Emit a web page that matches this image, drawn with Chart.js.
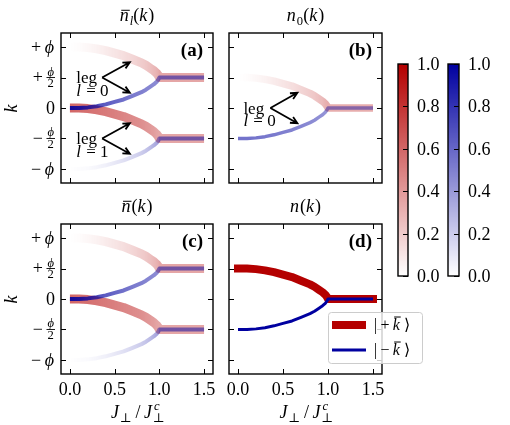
<!doctype html>
<html lang="en">
<head>
<meta charset="utf-8">
<title>Leg occupations n(k)</title>
<script src="https://cdn.jsdelivr.net/npm/chart.js@4/dist/chart.umd.min.js"></script>
<style>
  body { margin: 0; background: #fff; }
  #wrap { position: relative; width: 510px; height: 425px; }
  canvas { position: absolute; left: 0; top: 0; }
</style>
</head>
<body>
<div id="wrap">
  <canvas id="pa" width="510" height="425"></canvas>
  <canvas id="pb" width="510" height="425"></canvas>
  <canvas id="pc" width="510" height="425"></canvas>
  <canvas id="pd" width="510" height="425"></canvas>
  <canvas id="cbr" width="510" height="425"></canvas>
  <canvas id="cbb" width="510" height="425"></canvas>
</div>

<script>
const jVals = [0, 0.1, 0.2, 0.3, 0.4, 0.5, 0.6, 0.7, 0.8, 0.85, 0.9, 0.94, 0.97, 0.99, 1.0, 1.5];

// k of each branch (units of phi)
const kUpOuter = [1.0, 1.0, 0.99, 0.97, 0.94, 0.9, 0.86, 0.8, 0.74, 0.7, 0.65, 0.61, 0.57, 0.53, 0.5, 0.5];
const kUpInner = [0.0, 0.0, 0.01, 0.03, 0.06, 0.1, 0.14, 0.2, 0.26, 0.3, 0.35, 0.39, 0.43, 0.47, 0.5, 0.5];
const kLoInner = [0.0, 0.0, -0.01, -0.03, -0.06, -0.1, -0.14, -0.2, -0.26, -0.3, -0.35, -0.39, -0.43, -0.47, -0.5, -0.5];
const kLoOuter = [-1.0, -1.0, -0.99, -0.97, -0.94, -0.9, -0.86, -0.8, -0.74, -0.7, -0.65, -0.61, -0.57, -0.53, -0.5, -0.5];
const kPlus  = [0.5, 0.5, 0.49, 0.47, 0.44, 0.4, 0.36, 0.3, 0.24, 0.2, 0.15, 0.11, 0.07, 0.03, 0.0, 0.0];
const kMinus = [-0.5, -0.5, -0.49, -0.47, -0.44, -0.4, -0.36, -0.3, -0.24, -0.2, -0.15, -0.11, -0.07, -0.03, 0.0, 0.0];

// occupation (colour value 0..1) along each branch
const nUpOuter = [0.0, 0.01, 0.03, 0.05, 0.08, 0.1, 0.13, 0.16, 0.2, 0.22, 0.25, 0.28, 0.3, 0.33, 0.35, 0.35];
const nUpInner = [0.9, 0.85, 0.78, 0.7, 0.64, 0.6, 0.56, 0.52, 0.5, 0.48, 0.47, 0.46, 0.46, 0.46, 0.5, 0.5];
const nLoInner = [0.6, 0.58, 0.56, 0.54, 0.52, 0.5, 0.48, 0.46, 0.44, 0.42, 0.4, 0.38, 0.36, 0.35, 0.35, 0.35];
const nLoOuter = [0.0, 0.01, 0.02, 0.04, 0.06, 0.09, 0.12, 0.16, 0.2, 0.23, 0.27, 0.31, 0.35, 0.4, 0.5, 0.5];
const nPlusB   = [0.0, 0.01, 0.03, 0.05, 0.08, 0.1, 0.13, 0.16, 0.2, 0.22, 0.25, 0.27, 0.3, 0.32, 0.32, 0.32];
const nMinusB  = [0.55, 0.55, 0.54, 0.53, 0.52, 0.5, 0.49, 0.48, 0.46, 0.45, 0.44, 0.43, 0.42, 0.42, 0.42, 0.42];

// ticks
const xTicks = [0, 0.5, 1, 1.5];
const xTickText = ['0.0', '0.5', '1.0', '1.5'];
const yTicks = [1, 0.5, 0, -0.5, -1];
const cbTicks = [0, 0.2, 0.4, 0.6, 0.8, 1.0];
const cbTickText = ['0.0', '0.2', '0.4', '0.6', '0.8', '1.0'];

const SERIF = '"Liberation Serif","DejaVu Serif",serif';
const RED = '180,0,0';
const BLUE = '0,0,160';

const yTickText = [
    [{t: '+'}, {t: '\u2009'}, {t: '\u03D5', i: 1}],
    [{t: '+'}, {t: '\u2009'}, {f: ['\u03D5', '2']}],
    [{t: '0'}],
    [{t: '\u2212'}, {t: '\u2009'}, {f: ['\u03D5', '2']}],
    [{t: '\u2212'}, {t: '\u2009'}, {t: '\u03D5', i: 1}]
];

const legNote = (l) => [[{t: 'leg'}], [{t: 'l', i: 1}, {t: ' = ' + l}]];

const panels = {
    pa: {box: [61, 33, 213, 183], letter: '(a)', yLab: true, xLab: false,
         title: [{t: 'n', i: 1, o: 0.62}, {t: 'l', i: 1, s: -1}, {t: '('}, {t: 'k', i: 1}, {t: ')'}],
         arrows: [[0.36, 0.5, 0.67, 0.75], [0.36, 0.5, 0.67, 0.25],
                  [0.36, -0.5, 0.67, -0.25], [0.36, -0.5, 0.67, -0.75]],
         notes: [{x: 0.07, y: 0.5, lines: legNote(0)}, {x: 0.07, y: -0.5, lines: legNote(1)}]},
    pb: {box: [229, 33, 382, 183], letter: '(b)', yLab: false, xLab: false,
         title: [{t: 'n', i: 1}, {t: '0', s: -1}, {t: '('}, {t: 'k', i: 1}, {t: ')'}],
         arrows: [[0.36, 0, 0.66, 0.25], [0.36, 0, 0.66, -0.25]],
         notes: [{x: 0.06, y: 0, lines: legNote(0)}]},
    pc: {box: [61, 224, 213, 374], letter: '(c)', yLab: true, xLab: true,
         title: [{t: 'n', i: 1, o: 0.62}, {t: '('}, {t: 'k', i: 1}, {t: ')'}],
         arrows: [], notes: []},
    pd: {box: [229, 224, 382, 374], letter: '(d)', yLab: false, xLab: true, legend: true,
         title: [{t: 'n', i: 1}, {t: '('}, {t: 'k', i: 1}, {t: ')'}],
         arrows: [], notes: []}
};

// ---------- rich text helpers ----------
function fontFor(p, size) {
    const sz = p.s ? size * 0.7 : size;
    return (p.i ? 'italic ' : '') + (p.b ? 'bold ' : '') + sz + 'px ' + SERIF;
}
function partWidth(ctx, p, size) {
    if (p.f) {
        ctx.font = 'italic ' + size * 0.7 + 'px ' + SERIF;
        const a = ctx.measureText(p.f[0]).width;
        ctx.font = size * 0.7 + 'px ' + SERIF;
        return Math.max(a, ctx.measureText(p.f[1]).width) + 2;
    }
    ctx.font = fontFor(p, size);
    let w = ctx.measureText(p.t).width;
    if (p.sup) {
        ctx.font = 'italic ' + size * 0.7 + 'px ' + SERIF;
        w = Math.max(w, ctx.measureText(p.sup).width);
    }
    return w + (p.i && !p.s ? 1 : 0);
}
function drawRich(ctx, parts, x, y, size, align) {
    const ws = parts.map(p => partWidth(ctx, p, size));
    const total = ws.reduce((a, b) => a + b, 0);
    let cx = align === 'right' ? x - total : align === 'center' ? x - total / 2 : x;
    ctx.textAlign = 'left';
    ctx.textBaseline = 'alphabetic';
    const base = y + size * 0.33;
    parts.forEach((p, i) => {
        if (p.f) {
            const w = ws[i];
            ctx.font = 'italic ' + size * 0.7 + 'px ' + SERIF;
            ctx.textAlign = 'center';
            ctx.fillText(p.f[0], cx + w / 2, y - 2);
            ctx.font = size * 0.7 + 'px ' + SERIF;
            ctx.fillText(p.f[1], cx + w / 2, y + size * 0.55);
            ctx.textAlign = 'left';
            ctx.fillRect(cx, y - 0.5, w, 0.9);
        } else {
            ctx.font = fontFor(p, size);
            const dy = p.s === -1 ? size * 0.22 : p.s === 1 ? -size * 0.4 : 0;
            ctx.fillText(p.t, cx, base + dy);
            if (p.sup) {
                ctx.font = 'italic ' + size * 0.7 + 'px ' + SERIF;
                ctx.fillText(p.sup, cx + 1, base - size * 0.42);
            }
            if (p.o) {
                // overline, p.o = height above baseline in em
                ctx.fillRect(cx + 1.5, base - size * p.o, ws[i] - 1.5, 1);
            }
        }
        cx += ws[i];
    });
}

function arrow(ctx, x0, y0, x1, y1) {
    const ang = Math.atan2(y1 - y0, x1 - x0), h = 7.5;
    ctx.beginPath();
    ctx.moveTo(x0, y0);
    ctx.lineTo(x1, y1);
    ctx.moveTo(x1 - h * Math.cos(ang - 0.45), y1 - h * Math.sin(ang - 0.45));
    ctx.lineTo(x1, y1);
    ctx.lineTo(x1 - h * Math.cos(ang + 0.45), y1 - h * Math.sin(ang + 0.45));
    ctx.stroke();
}

// ---------- frame / ticks / labels of the four panels ----------
const frame = {
    id: 'frame',
    afterDraw(chart) {
        const p = panels[chart.canvas.id];
        const {ctx, chartArea: a} = chart;
        const sx = chart.scales.x, sy = chart.scales.y;
        ctx.save();
        ctx.fillStyle = '#000';
        ctx.strokeStyle = '#000';

        // arrows + notes
        ctx.lineWidth = 1.8;
        p.arrows.forEach(r => arrow(ctx, sx.getPixelForValue(r[0]), sy.getPixelForValue(r[1]),
                                         sx.getPixelForValue(r[2]), sy.getPixelForValue(r[3])));
        p.notes.forEach(n => {
            const px = sx.getPixelForValue(n.x), py = sy.getPixelForValue(n.y);
            n.lines.forEach((ln, i) => drawRich(ctx, ln, px, py + i * 12.5, 17, 'left'));
        });

        // inward ticks on all four sides
        ctx.lineWidth = 1;
        ctx.beginPath();
        xTicks.forEach(v => {
            const px = Math.round(sx.getPixelForValue(v)) + 0.5;
            ctx.moveTo(px, a.bottom); ctx.lineTo(px, a.bottom - 5);
            ctx.moveTo(px, a.top); ctx.lineTo(px, a.top + 5);
        });
        yTicks.forEach(v => {
            const py = Math.round(sy.getPixelForValue(v)) + 0.5;
            ctx.moveTo(a.left, py); ctx.lineTo(a.left + 5, py);
            ctx.moveTo(a.right, py); ctx.lineTo(a.right - 5, py);
        });
        ctx.stroke();
        ctx.lineWidth = 1.4;
        ctx.strokeRect(a.left, a.top, a.right - a.left, a.bottom - a.top);

        // tick labels
        if (p.yLab) {
            yTicks.forEach((v, i) => drawRich(ctx, yTickText[i], a.left - 6, sy.getPixelForValue(v), 18, 'right'));
            ctx.save();
            ctx.translate(11, (a.top + a.bottom) / 2);
            ctx.rotate(-Math.PI / 2);
            drawRich(ctx, [{t: 'k', i: 1}], 0, 0, 18, 'center');
            ctx.restore();
        }
        if (p.xLab) {
            xTicks.forEach((v, i) => drawRich(ctx, [{t: xTickText[i]}], sx.getPixelForValue(v), a.bottom + 15, 18, 'center'));
            drawRich(ctx, [{t: 'J', i: 1}, {t: '\u22A5', s: -1}, {t: '\u2009/\u2009'}, {t: 'J', i: 1}, {t: '\u22A5', s: -1, sup: 'c'}],
                     (a.left + a.right) / 2 + 1, a.bottom + 38, 18, 'center');
        }

        // title and panel letter
        drawRich(ctx, p.title, (a.left + a.right) / 2, a.top - 18, 18, 'center');
        drawRich(ctx, [{t: p.letter, b: 1}], a.right - 10, a.top + 17, 19, 'right');

        // legend
        if (p.legend) {
            const lx = a.right - 54, ly = a.bottom - 62, lw = 94, lh = 51;
            ctx.fillStyle = 'rgba(255,255,255,0.8)';
            ctx.strokeStyle = '#cccccc';
            ctx.lineWidth = 1;
            ctx.beginPath();
            ctx.roundRect(lx + 0.5, ly + 0.5, lw, lh, 3);
            ctx.fill();
            ctx.stroke();
            const entries = chart.data.datasets.filter(d => d.legendRow !== undefined)
                                               .sort((m, n) => m.legendRow - n.legendRow);
            entries.forEach((d, i) => {
                const yy = ly + 13 + i * 25;
                ctx.strokeStyle = d.borderColor;
                ctx.lineWidth = d.borderWidth;
                ctx.lineCap = 'butt';
                ctx.beginPath();
                ctx.moveTo(lx + 4, yy); ctx.lineTo(lx + 38, yy);
                ctx.stroke();
                ctx.fillStyle = '#000';
                drawRich(ctx, [{t: '|\u2009'}, {t: d.label + '\u2009'}, {t: 'k', i: 1, o: 0.86}, {t: '\u2009\u27E9'}],
                         lx + 46, yy, 16, 'left');
            });
        }
        ctx.restore();
    }
};

function series(ks) {
    return jVals.map((j, i) => ({x: j, y: ks[i]}));
}

// colour that follows the occupation along J (colormap white -> rgb)
function fade(n, rgb) {
    return (c) => {
        const chart = c.chart;
        if (!chart.chartArea) return 'rgba(' + rgb + ',0.5)';
        const sx = chart.scales.x;
        const x0 = sx.getPixelForValue(jVals[0]), x1 = sx.getPixelForValue(jVals[jVals.length - 1]);
        const g = chart.ctx.createLinearGradient(x0, 0, x1, 0);
        jVals.forEach((j, i) => g.addColorStop((sx.getPixelForValue(j) - x0) / (x1 - x0), 'rgba(' + rgb + ',' + n[i] + ')'));
        return g;
    };
}

function makePanel(id, datasets) {
    const b = panels[id].box;
    return new Chart(document.getElementById(id), {
        type: 'line',
        data: {datasets: datasets},
        options: {
            responsive: false,
            animation: false,
            events: [],
            layout: {padding: {left: b[0], top: b[1], right: 510 - b[2], bottom: 425 - b[3]}},
            scales: {
                x: {type: 'linear', min: -0.1, max: 1.6, display: false},
                y: {type: 'linear', min: -1.23, max: 1.23, display: false}
            },
            elements: {
                point: {radius: 0},
                line: {tension: 0, borderJoinStyle: 'round', borderCapStyle: 'butt', fill: false}
            },
            plugins: {legend: {display: false}, tooltip: {enabled: false}}
        },
        plugins: [frame]
    });
}

// blue datasets first so they are drawn on top
const fourBranches = (wRed, wBlue) => [
    {data: series(kUpInner), borderColor: fade(nUpInner, BLUE), borderWidth: wBlue},
    {data: series(kLoOuter), borderColor: fade(nLoOuter, BLUE), borderWidth: wBlue},
    {data: series(kUpOuter), borderColor: fade(nUpOuter, RED), borderWidth: wRed},
    {data: series(kLoInner), borderColor: fade(nLoInner, RED), borderWidth: wRed}
];

makePanel('pa', fourBranches(9, 4));
makePanel('pc', fourBranches(9, 4));
makePanel('pb', [
    {data: series(kMinus), borderColor: fade(nMinusB, BLUE), borderWidth: 3.5},
    {data: series(kPlus), borderColor: fade(nPlusB, RED), borderWidth: 7.5}
]);
makePanel('pd', [
    {label: '\u2212', legendRow: 1, data: series(kMinus), borderColor: 'rgb(' + BLUE + ')', borderWidth: 3},
    {label: '+', legendRow: 0, data: series(kPlus), borderColor: 'rgb(' + RED + ')', borderWidth: 8, borderCapStyle: 'square'}
]);

// ---------- colour bars ----------
const cbFrame = {
    id: 'cbFrame',
    afterDraw(chart) {
        const {ctx, chartArea: a} = chart;
        const sy = chart.scales.y;
        ctx.save();
        ctx.strokeStyle = '#000';
        ctx.fillStyle = '#000';
        ctx.lineWidth = 1;
        ctx.beginPath();
        cbTicks.forEach(v => {
            const py = Math.round(sy.getPixelForValue(v)) + 0.5;
            ctx.moveTo(a.right, py); ctx.lineTo(a.right - 5, py);
        });
        ctx.stroke();
        ctx.lineWidth = 1.4;
        ctx.strokeRect(a.left, a.top, a.right - a.left, a.bottom - a.top);
        cbTicks.forEach((v, i) => drawRich(ctx, [{t: cbTickText[i]}], a.right + 9, sy.getPixelForValue(v), 18, 'left'));
        ctx.restore();
    }
};

function makeBar(id, rgb, left, right) {
    return new Chart(document.getElementById(id), {
        type: 'bar',
        data: {
            labels: [''],
            datasets: [{
                data: [1],
                barPercentage: 1,
                categoryPercentage: 1,
                borderWidth: 0,
                backgroundColor: (c) => {
                    const chart = c.chart;
                    if (!chart.chartArea) return 'rgba(' + rgb + ',0.5)';
                    const sy = chart.scales.y;
                    const g = chart.ctx.createLinearGradient(0, sy.getPixelForValue(0), 0, sy.getPixelForValue(1));
                    g.addColorStop(0, 'rgba(' + rgb + ',0)');
                    g.addColorStop(1, 'rgba(' + rgb + ',1)');
                    return g;
                }
            }]
        },
        options: {
            responsive: false,
            animation: false,
            events: [],
            layout: {padding: {left: left, top: 64, right: 510 - right, bottom: 425 - 276}},
            scales: {
                x: {display: false},
                y: {min: 0, max: 1, display: false}
            },
            plugins: {legend: {display: false}, tooltip: {enabled: false}}
        },
        plugins: [cbFrame]
    });
}

makeBar('cbr', RED, 398, 408);
makeBar('cbb', BLUE, 448, 459);
</script>
</body>
</html>
